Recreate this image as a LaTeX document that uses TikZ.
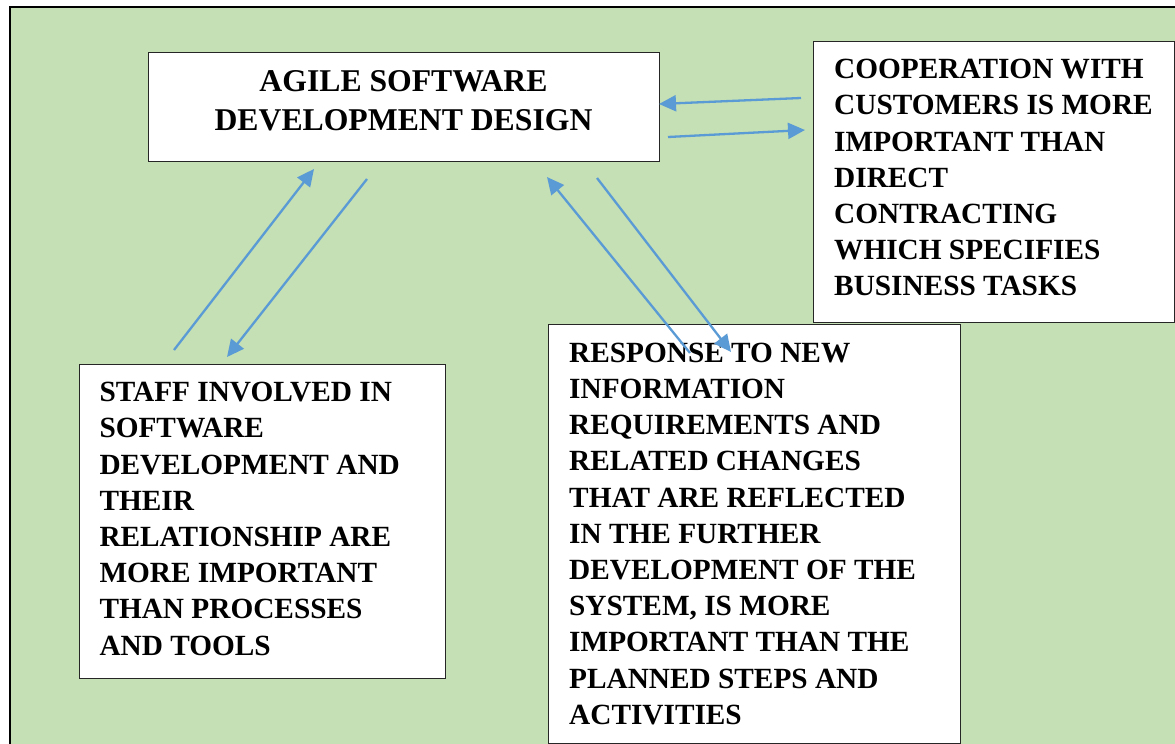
\documentclass[tikz,border=0pt]{standalone}
\usepackage{fontspec}
\setmainfont{Liberation Serif}
\usetikzlibrary{arrows.meta}
\definecolor{bggreen}{HTML}{C5E0B4}
\definecolor{arrowblue}{HTML}{5B9BD5}
\begin{document}
\begin{tikzpicture}[x=1pt,y=-1pt,
  box/.style={draw=black!85, line width=1.1pt, fill=white, inner sep=0pt, anchor=north west},
  txt/.style={font=\bfseries\fontsize{29.3}{36.2}\selectfont, align=left, inner sep=0pt, anchor=north west},
  titletxt/.style={font=\bfseries\fontsize{31.7}{39.3}\selectfont, align=center, inner sep=0pt, anchor=north},
  conn/.style={draw=arrowblue, line width=2.3pt, -{Triangle[length=17pt,width=16pt]}}]
\useasboundingbox (0,0) rectangle (1175,744);
\fill[white] (0,0) rectangle (1175,744);
\draw[fill=bggreen, line width=1.7pt] (10,7) rectangle (1190,760);

% boxes
\node[box, minimum width=511pt, minimum height=109pt] (main) at (148,52) {};
\node[box, minimum width=361pt, minimum height=281pt] (coop) at (812.5,40.5) {};
\node[box, minimum width=365.5pt, minimum height=314pt] (staff) at (79,364) {};
\node[box, minimum width=412.5pt, minimum height=419pt] (resp) at (547.5,324) {};

% texts
\node[titletxt] (maintxt) at (403.5,70.5) {AGILE SOFTWARE\\DEVELOPMENT DESIGN};
\node[txt] (cooptxt) at (834,59) {COOPERATION WITH\\CUSTOMERS IS MORE\\IMPORTANT THAN\\DIRECT\\CONTRACTING\\WHICH SPECIFIES\\BUSINESS TASKS};
\node[txt] (stafftxt) at (99.3,382) {STAFF INVOLVED IN\\SOFTWARE\\DEVELOPMENT AND\\THEIR\\RELATIONSHIP ARE\\MORE IMPORTANT\\THAN PROCESSES\\AND TOOLS};
\node[txt] (resptxt) at (569,342.7) {RESPONSE TO NEW\\INFORMATION\\REQUIREMENTS AND\\RELATED CHANGES\\THAT ARE REFLECTED\\IN THE FURTHER\\DEVELOPMENT OF THE\\SYSTEM, IS MORE\\IMPORTANT THAN THE\\PLANNED STEPS AND\\ACTIVITIES};

% connector end points
\coordinate (c1s) at (801,98);
\coordinate (c1e) at (659,104);
\coordinate (c2s) at (668,137);
\coordinate (c2e) at (805,130);
\coordinate (s1s) at (174,350);
\coordinate (s1e) at (314,169);
\coordinate (s2s) at (367,179);
\coordinate (s2e) at (227,357);
\coordinate (r1s) at (690,353);
\coordinate (r1e) at (547,177);
\coordinate (r2s) at (597,178);
\coordinate (r2e) at (731,352);

\draw[conn] (c1s) -- (c1e);
\draw[conn] (c2s) -- (c2e);
\draw[conn] (s1s) -- (s1e);
\draw[conn] (s2s) -- (s2e);
\draw[conn] (r1s) -- (r1e);
\draw[conn] (r2s) -- (r2e);
\end{tikzpicture}
\end{document}
